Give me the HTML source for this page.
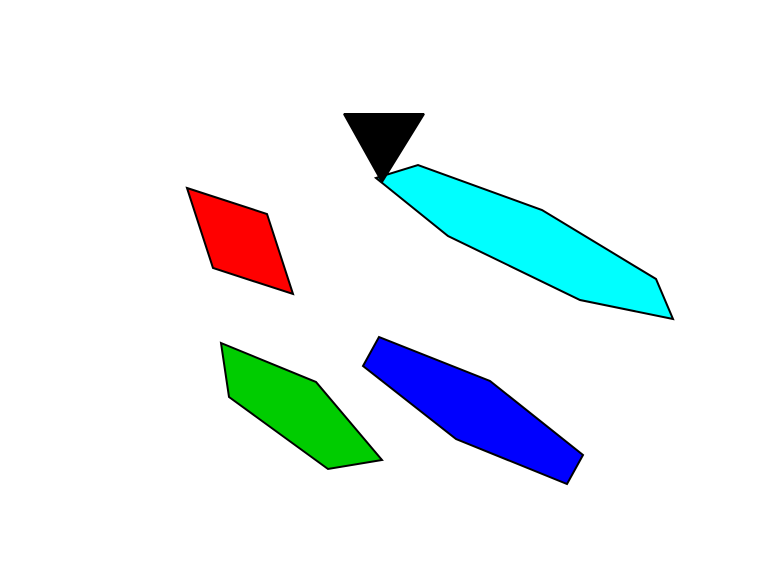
<!DOCTYPE html>
<html><head><meta charset="utf-8"><style>html,body{margin:0;padding:0;background:#fff;}svg{display:block;}</style></head>
<body>
<svg width="768" height="576" viewBox="0 0 768 576">
<g stroke="#000" stroke-width="2" stroke-linejoin="miter">
<polygon fill="#ff0000" points="187,188 267,214 293,294 213,268"/>
<polygon fill="#00ffff" points="376,178 418,165 542,210 656,279 673,319 580,300 448,236"/>
<polygon fill="#00cc00" points="221,343 316,382 382,460 328,469 229,397"/>
<polygon fill="#0000ff" points="379,337 490,381 583,455 567,484 456,439 363,366"/>
<polygon fill="#000" stroke-linejoin="bevel" points="344,114 424,114 382,182"/>
</g>
</svg>
</body></html>
